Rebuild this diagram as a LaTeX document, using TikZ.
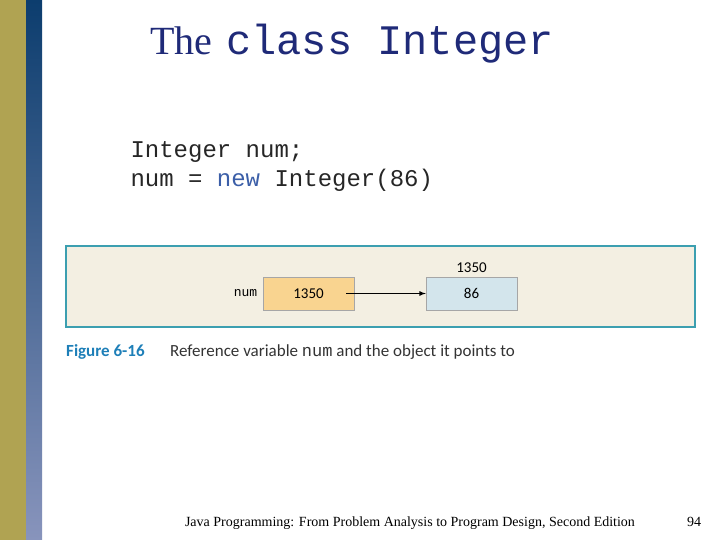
\documentclass[tikz,border=0pt]{standalone}
\usepackage{fontspec}
\setmainfont{Liberation Serif}
\setsansfont{Carlito}
\setmonofont{Liberation Mono}
\usetikzlibrary{positioning}
\definecolor{olivebar}{HTML}{B0A352}
\definecolor{bluetop}{HTML}{0C3D6E}
\definecolor{bluebot}{HTML}{8894BC}
\definecolor{titleblue}{HTML}{1F2A78}
\definecolor{figframe}{HTML}{3C9FB0}
\definecolor{figfill}{HTML}{F3EFE2}
\definecolor{refcell}{HTML}{F9D490}
\definecolor{objcell}{HTML}{D3E5EC}
\definecolor{figlabel}{HTML}{1E7FB8}
\definecolor{kwblue}{HTML}{3C5FA8}
\tikzset{
  cell/.style={draw=gray!70, minimum width=91pt, minimum height=33pt, font=\sffamily\fontsize{15}{15}\selectfont},
  codeline/.style={anchor=base west, text=black!85, font=\ttfamily\fontsize{24}{24}\selectfont},
}
\begin{document}
\begin{tikzpicture}[x=1pt,y=-1pt]
  \useasboundingbox (0,0) rectangle (720,540);
  % side bars
  \fill[olivebar] (0,0) rectangle (26,540);
  \shade[top color=bluetop, bottom color=bluebot] (26,0) rectangle (42,540);

  % title
  \node[anchor=base west, inner sep=0, text=titleblue] (title) at (150,55)
    {\fontsize{40}{40}\selectfont The\hspace{14pt}\texttt{\fontsize{42}{42}\selectfont class Integer}};

  % code
  \node[codeline] (code1) at (127,158) {Integer num;};
  \node[codeline] (code2) at (127,187) {num = \textcolor{kwblue}{new} Integer(86)};

  % figure
  \draw[figframe, fill=figfill, line width=1.5pt] (66,246) rectangle (695,327);
  \node[cell, fill=refcell] (refbox) at (308.5,293.5) {1350};
  \node[cell, fill=objcell] (objbox) at (471.5,293.5) {86};
  \node[left=2pt of refbox, font=\ttfamily\fontsize{13}{13}\selectfont] (numlbl) {num};
  \node[above=1pt of objbox, font=\sffamily\fontsize{15}{15}\selectfont] (addr) {1350};
  \draw[-latex, line width=1.2pt] ([xshift=-8pt]refbox.east) -- (objbox.west);

  % caption
  \node[anchor=base west, inner sep=0, text=figlabel, font=\sffamily\bfseries\fontsize{17}{17}\selectfont] (figno) at (66,356) {Figure 6-16};
  \node[anchor=base west, inner sep=0, text=black!80, font=\sffamily\fontsize{17}{17}\selectfont] (figcap) at (170,356)
    {Reference variable \texttt{num} and the object it points to};

  % footer
  \node[anchor=base, inner sep=0, font=\fontsize{14}{14}\selectfont] (footer) at (410,526)
    {Java Programming: From Problem Analysis to Program Design, Second Edition};
  \node[anchor=base, inner sep=0, font=\fontsize{14}{14}\selectfont] (pageno) at (694,526) {94};
\end{tikzpicture}
\end{document}
